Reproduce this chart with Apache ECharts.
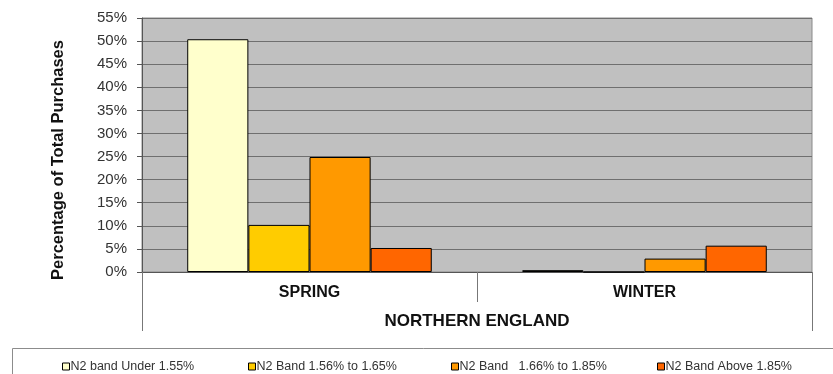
<!DOCTYPE html>
<html>
<head>
<meta charset="utf-8">
<script src="https://cdn.jsdelivr.net/npm/echarts@6/dist/echarts.min.js"></script>
<style>
  html, body { margin: 0; padding: 0; background: #fff; }
  #chart { width: 833px; height: 374px; }
</style>
</head>
<body>
<div id="chart"></div>
<script>
// Seasons and region shown on the category axis
const seasons = ['SPRING', 'WINTER'];
const region = ['NORTHERN ENGLAND'];

// Share of total purchases (%) per N2 band
const bandNames = [
  'N2 band Under 1.55%',
  'N2 Band 1.56% to 1.65%',
  'N2 Band   1.66% to 1.85%',
  'N2 Band Above 1.85%'
];
const bandUnder155 = [50.4, 0.4];
const band156to165 = [10.2, 0];
const band166to185 = [24.9, 2.9];
const bandAbove185 = [5.2, 5.7];

const bandColors = ['#FFFFCC', '#FFCC00', '#FF9900', '#FF6600'];
const bandValues = [bandUnder155, band156to165, band166to185, bandAbove185];

// Y axis ticks: 0% .. 55% every 5%
const yMin = 0, yMax = 55, yStep = 5;

const chart = echarts.init(document.getElementById('chart'), null, { renderer: 'canvas' });

const series = bandNames.map((name, i) => ({
  name,
  type: 'bar',
  xAxisIndex: 0,
  data: bandValues[i],
  barGap: '0%',
  barCategoryGap: '27%',
  itemStyle: { color: bandColors[i], borderColor: '#000', borderWidth: 1 }
}));

const legendLefts = [57, 243, 446, 652];
const legends = bandNames.map((name, i) => ({
  data: [name],
  left: legendLefts[i],
  top: 355,
  itemWidth: 7,
  itemHeight: 7,
  itemGap: 0,
  icon: 'rect',
  itemStyle: { borderColor: '#000', borderWidth: 1 },
  textStyle: { fontFamily: 'Liberation Sans, Arial, sans-serif', fontSize: 12.5, color: '#333', padding: [0, 0, 0, -4] },
  selectedMode: false
}));

const fontFamily = 'Liberation Sans, Arial, sans-serif';

chart.setOption({
  animation: false,
  backgroundColor: '#fff',
  graphic: [{
    type: 'rect',
    left: 12, top: 348,
    shape: { width: 840, height: 40 },
    style: { fill: '#fff', stroke: '#8c8c8c', lineWidth: 1 },
    z: -1
  }],
  grid: {
    left: 142, right: 21, top: 18, bottom: 102,
    show: true,
    backgroundColor: '#C0C0C0',
    borderColor: '#8a8a8a',
    borderWidth: 1
  },
  legend: legends,
  xAxis: [{
    type: 'category',
    data: seasons,
    position: 'bottom',
    axisLine: { show: true, lineStyle: { color: '#555', width: 1 } },
    axisTick: { show: true, interval: 0, length: 30, lineStyle: { color: '#777' } },
    axisLabel: {
      margin: 13,
      fontFamily, fontSize: 16, fontWeight: 'bold', color: '#111'
    },
    splitLine: { show: false }
  }, {
    type: 'category',
    data: region,
    position: 'bottom',
    axisLine: { show: false },
    axisTick: { show: true, interval: 0, length: 59, lineStyle: { color: '#777' } },
    axisLabel: {
      margin: 41,
      fontFamily, fontSize: 17, fontWeight: 'bold', color: '#111'
    }
  }],
  yAxis: {
    type: 'value',
    min: yMin, max: yMax, interval: yStep,
    name: 'Percentage of Total Purchases',
    nameLocation: 'middle',
    nameGap: 75,
    nameRotate: 90,
    nameTextStyle: {
      fontFamily, fontSize: 16.5, fontWeight: 'bold', color: '#111',
      padding: [0, 30, 0, 0]
    },
    axisLine: { show: true, lineStyle: { color: '#555' } },
    axisTick: { show: true, length: 5, lineStyle: { color: '#555' } },
    axisLabel: {
      formatter: '{value}%',
      margin: 15,
      fontFamily, fontSize: 15, color: '#333'
    },
    splitLine: { show: true, lineStyle: { color: '#6f6f6f', width: 1 } }
  },
  series
});
</script>
</body>
</html>
